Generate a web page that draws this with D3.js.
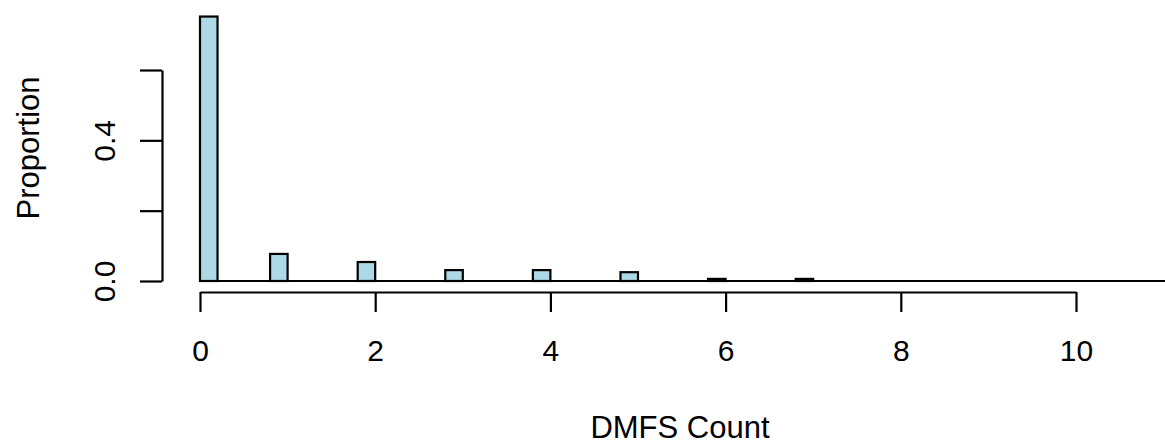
<!DOCTYPE html>
<html>
<head>
<meta charset="utf-8">
<script src="https://cdn.jsdelivr.net/npm/d3@7"></script>
<style>
  html, body { margin: 0; padding: 0; background: #fff; }
  svg { display: block; }
  text { font-family: "Liberation Sans", Arial, sans-serif; fill: #000; }
</style>
</head>
<body>
<svg id="chart" width="1165" height="447"></svg>
<script>
// DMFS count categories and their proportions
const counts = [0, 1, 2, 3, 4, 5, 6, 7, 8, 9, 10, 11, 12, 13];
const proportions = [0.752, 0.077, 0.054, 0.031, 0.031, 0.025, 0.006, 0.006, 0, 0, 0, 0, 0, 0];
const binWidth = 0.2;
const xTicks = [0, 2, 4, 6, 8, 10];
const yTicks = [0, 0.2, 0.4, 0.6];
const yTickLabels = ["0.0", "", "0.4", ""];
const xTitle = "DMFS Count";
const yTitle = "Proportion";

const svg = d3.select("#chart");
const x = d3.scaleLinear().domain([0, 10]).range([200, 1076]);
const y = d3.scaleLinear().domain([0, 0.6]).range([281, 70]);

// bins: [0,0.2] for 0, (k-0.2, k] for k>=1
const bins = counts.map((c, i) => ({
  x0: c === 0 ? 0 : c - binWidth,
  x1: c === 0 ? binWidth : c,
  v: proportions[i]
}));

// baseline of zero-height bins
svg.append("line")
  .attr("x1", x(0)).attr("x2", x(d3.max(counts)))
  .attr("y1", y(0)).attr("y2", y(0))
  .attr("stroke", "#000").attr("stroke-width", 2.2);

svg.append("g").selectAll("rect")
  .data(bins.filter(d => d.v > 0))
  .join("rect")
  .attr("x", d => x(d.x0))
  .attr("width", d => x(d.x1) - x(d.x0))
  .attr("y", d => y(d.v))
  .attr("height", d => y(0) - y(d.v))
  .attr("fill", "#add8e6")
  .attr("stroke", "#000")
  .attr("stroke-width", 2.2);

// x axis
const xAxis = svg.append("g").attr("transform", "translate(0,292)")
  .call(d3.axisBottom(x).tickValues(xTicks).tickFormat(d3.format("d")).tickSize(20).tickSizeOuter(0).tickPadding(28));
xAxis.select(".domain").attr("stroke-width", 2.2);
xAxis.selectAll(".tick line").attr("stroke-width", 2.2);
xAxis.selectAll("text").attr("font-size", 30).attr("font-family", "Liberation Sans, Arial, sans-serif");

// y axis
const yAxis = svg.append("g").attr("transform", "translate(162,0)")
  .call(d3.axisLeft(y).tickValues(yTicks).tickFormat((d, i) => yTickLabels[i]).tickSize(22).tickSizeOuter(0).tickPadding(0));
yAxis.select(".domain").attr("stroke-width", 2.2);
yAxis.selectAll(".tick line").attr("stroke-width", 2.2);
yAxis.selectAll(".tick text")
  .attr("font-size", 30)
  .attr("font-family", "Liberation Sans, Arial, sans-serif")
  .attr("text-anchor", "middle")
  .attr("dy", null)
  .attr("x", null)
  .attr("transform", "translate(-58,0) rotate(-90)")
  .attr("dominant-baseline", "central");

// titles
svg.append("text")
  .attr("x", 680).attr("y", 438)
  .attr("text-anchor", "middle")
  .attr("font-size", 31)
  .text(xTitle);

svg.append("text")
  .attr("transform", "translate(39,148) rotate(-90)")
  .attr("text-anchor", "middle")
  .attr("font-size", 31)
  .text(yTitle);
</script>
</body>
</html>
